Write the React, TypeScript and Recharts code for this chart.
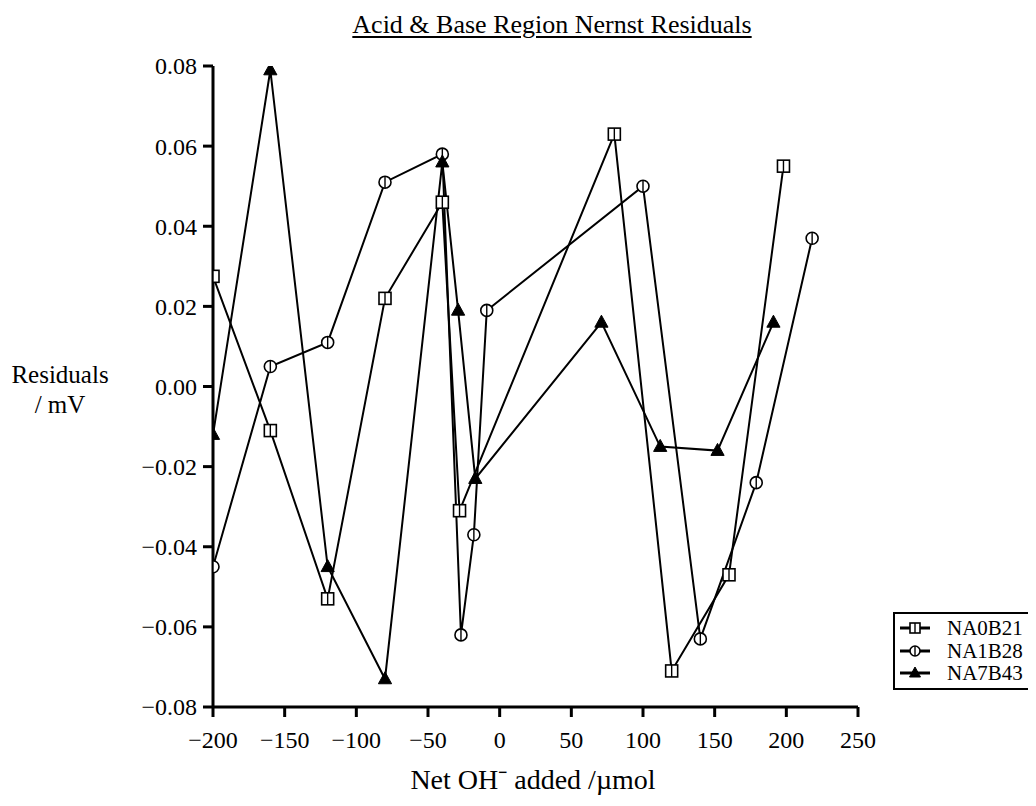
import { Line, LineChart, XAxis, YAxis } from 'recharts';

const FONT = '"Liberation Serif", "Times New Roman", serif';

const seriesNames = ['NA0B21', 'NA1B28', 'NA7B43'];

const na0b21X = [-200, -160, -120, -80, -40, -28, 80, 120, 160, 198];
const na0b21Y = [0.0275, -0.011, -0.053, 0.022, 0.046, -0.031, 0.063, -0.071, -0.047, 0.055];

const na1b28X = [-200, -160, -120, -80, -40, -27, -18, -9, 100, 140, 179, 218];
const na1b28Y = [-0.045, 0.005, 0.011, 0.051, 0.058, -0.062, -0.037, 0.019, 0.05, -0.063, -0.024, 0.037];

const na7b43X = [-200, -160, -120, -80, -40, -29, -17, 71, 112, 152, 191];
const na7b43Y = [-0.012, 0.079, -0.045, -0.073, 0.056, 0.019, -0.023, 0.016, -0.015, -0.016, 0.016];

const xTicks = [-200, -150, -100, -50, 0, 50, 100, 150, 200, 250];
const yTicks = [-0.08, -0.06, -0.04, -0.02, 0, 0.02, 0.04, 0.06, 0.08];

const toPoints = (xs: number[], ys: number[]) => xs.map((x, i) => ({ x, y: ys[i] }));

const fmtY = (v: number) => (v < 0 ? '\u2212' : '') + Math.abs(v).toFixed(2);
const fmtX = (v: number) => (v < 0 ? '\u2212' + Math.abs(v) : String(v));

// tick text drawn by hand so the serif font sticks
const XTick = ({ x, y, payload }: any) => (
    <text x={x} y={y} dy="0.71em" textAnchor="middle" fill="#000" style={{ fontFamily: FONT, fontSize: 24 }}>
        {fmtX(payload.value)}
    </text>
);

const YTick = ({ x, y, payload }: any) => (
    <text x={x} y={y} dy="0.35em" textAnchor="end" fill="#000" style={{ fontFamily: FONT, fontSize: 24 }}>
        {fmtY(payload.value)}
    </text>
);

const SquareMark = ({ cx, cy, s = 6 }: any) => (
    <g>
        <rect x={cx - s} y={cy - s} width={s * 2} height={s * 2} fill="#fff" stroke="#000" strokeWidth={1.6} />
        <line x1={cx} y1={cy - s} x2={cx} y2={cy + s} stroke="#000" strokeWidth={1.4} />
    </g>
);

const CircleMark = ({ cx, cy, s = 6 }: any) => (
    <g>
        <circle cx={cx} cy={cy} r={s} fill="#fff" stroke="#000" strokeWidth={1.6} />
        <line x1={cx} y1={cy - s} x2={cx} y2={cy + s} stroke="#000" strokeWidth={1.4} />
    </g>
);

const TriangleMark = ({ cx, cy, s = 6 }: any) => (
    <polygon
        points={`${cx},${cy - s * 1.2} ${cx - s * 1.1},${cy + s * 0.8} ${cx + s * 1.1},${cy + s * 0.8}`}
        fill="#000"
        stroke="#000"
        strokeWidth={1}
    />
);

const markers = [SquareMark, CircleMark, TriangleMark];

const makeDot = (Mark: any) => (p: any) => {
    if (p.cx == null || p.cy == null) return <g key={`e-${p.index}`} />;
    return (
        <g key={`d-${p.index}`}>
            <Mark cx={p.cx} cy={p.cy} />
        </g>
    );
};

const NernstChart = () => {
    const series = [
        toPoints(na0b21X, na0b21Y),
        toPoints(na1b28X, na1b28Y),
        toPoints(na7b43X, na7b43Y),
    ];

    return (
        <div style={{ position: 'relative', width: 1020, height: 790, fontFamily: FONT, color: '#000' }}>
            <div
                style={{
                    position: 'absolute',
                    left: 0,
                    width: 1088,
                    top: 2,
                    textAlign: 'center',
                    fontSize: 26,
                    lineHeight: '30px',
                    textDecoration: 'underline',
                    textUnderlineOffset: 3,
                }}
            >
                Acid &amp; Base Region Nernst Residuals
            </div>

            <div
                style={{
                    position: 'absolute',
                    left: 0,
                    width: 104,
                    top: 352,
                    textAlign: 'center',
                    fontSize: 25,
                    lineHeight: '30px',
                }}
            >
                Residuals
                <br />/ mV
            </div>

            <div
                style={{
                    position: 'absolute',
                    left: 200,
                    width: 650,
                    top: 756,
                    textAlign: 'center',
                    fontSize: 28,
                    lineHeight: '32px',
                }}
            >
                Net OH{'\u207B'} added /{'\u00B5'}mol
            </div>

            <LineChart width={1020} height={790} margin={{ top: 58, right: 170, bottom: 0, left: 0 }}>
                <XAxis
                    type="number"
                    dataKey="x"
                    domain={[-200, 250]}
                    ticks={xTicks}
                    height={91}
                    tickSize={10}
                    tickMargin={14}
                    axisLine={{ stroke: '#000', strokeWidth: 3 }}
                    tickLine={{ stroke: '#000', strokeWidth: 3 }}
                    tick={<XTick />}
                    allowDataOverflow
                />
                <YAxis
                    type="number"
                    domain={[-0.08, 0.08]}
                    ticks={yTicks}
                    width={205}
                    tickSize={10}
                    tickMargin={6}
                    axisLine={{ stroke: '#000', strokeWidth: 3 }}
                    tickLine={{ stroke: '#000', strokeWidth: 3 }}
                    tick={<YTick />}
                    allowDataOverflow
                />
                {series.map((data, i) => (
                    <Line
                        key={seriesNames[i]}
                        data={data}
                        dataKey="y"
                        name={seriesNames[i]}
                        type="linear"
                        stroke="#000"
                        strokeWidth={2}
                        dot={makeDot(markers[i])}
                        activeDot={false}
                        isAnimationActive={false}
                    />
                ))}
            </LineChart>

            <div
                style={{
                    position: 'absolute',
                    left: 885,
                    top: 604,
                    width: 137,
                    border: '2px solid #000',
                    padding: '3px 0 3px 5px',
                    background: '#fff',
                    fontSize: 21,
                }}
            >
                {seriesNames.map((name, i) => {
                    const Mark = markers[i];
                    return (
                        <div key={name} style={{ display: 'flex', alignItems: 'center', height: 22.5 }}>
                            <svg width={34} height={20} style={{ flex: 'none' }}>
                                <line x1={0} y1={10} x2={30} y2={10} stroke="#000" strokeWidth={3} />
                                <Mark cx={15} cy={10} s={5} />
                            </svg>
                            <span style={{ marginLeft: 13, lineHeight: '22px' }}>{name}</span>
                        </div>
                    );
                })}
            </div>
        </div>
    );
};

export default function App() {
    return <NernstChart />;
}
